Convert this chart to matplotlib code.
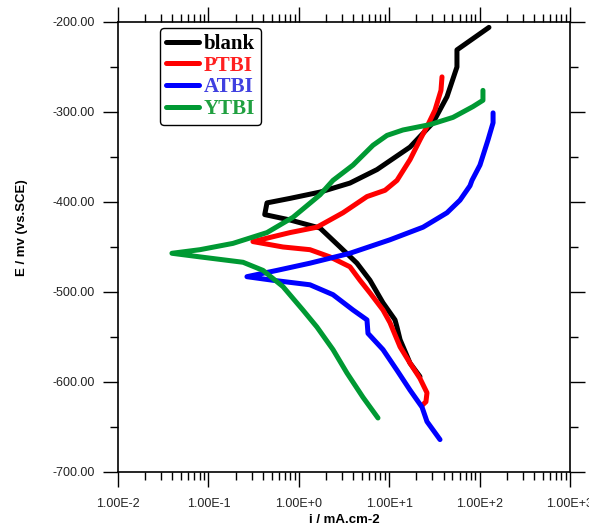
import matplotlib
matplotlib.use("Agg")
import matplotlib.pyplot as plt
from matplotlib.ticker import LogLocator, FixedLocator, NullFormatter

# Tafel curves: current density (mA/cm2) and potential (mV vs SCE)
blank_i = [127, 56.2, 56.2, 43.6, 30.5, 17.0, 7.33, 3.68, 1.72, 0.80, 0.445, 0.42,
           0.80, 1.72, 2.86, 4.40, 6.13, 8.54, 11.6, 12.2, 13.2, 17.0, 21.9]
blank_E = [-206, -231, -250, -283, -312, -339, -364, -379, -389, -396, -401, -414,
           -420, -429, -450, -468, -487, -512, -531, -539, -553, -579, -594]

ptbi_i = [38.4, 37.4, 32.1, 26.9, 21.9, 17.0, 12.2, 9.0, 5.68, 3.08, 1.59, 0.80, 0.311,
          0.668, 1.33, 2.21, 3.68, 4.75, 6.13, 8.54, 10.2, 13.2, 17.0, 21.9, 26.2, 25.5, 23.1]
ptbi_E = [-261, -276, -298, -314, -331, -353, -376, -387, -394, -412, -428, -434, -444,
          -450, -453, -461, -472, -487, -501, -520, -534, -561, -579, -596, -612, -622, -626]

atbi_i = [141, 141, 124, 101, 82.4, 78.3, 60.7, 43.6, 23.7, 10.2, 3.68, 1.33, 0.574, 0.267,
          0.519, 1.33, 2.39, 3.98, 5.68, 5.83, 8.54, 12.2, 17.0, 23.1, 26.2, 36.5]
atbi_E = [-301, -312, -331, -359, -376, -382, -398, -412, -428, -442, -457, -468, -476, -483,
          -487, -492, -503, -520, -531, -546, -564, -587, -609, -628, -644, -664]

ytbi_i = [109, 109, 84.5, 50.8, 28.3, 14.2, 9.46, 6.62, 3.98, 2.39, 1.72, 0.863, 0.445,
          0.187, 0.0807, 0.0395, 0.0807, 0.242, 0.402, 0.668, 1.11, 1.59, 2.39, 3.41, 5.13, 7.52]
ytbi_E = [-276, -287, -294, -306, -314, -320, -326, -337, -359, -376, -392, -417, -434,
          -446, -453, -457, -461, -467, -476, -494, -520, -539, -564, -590, -617, -640]

names = ["blank", "PTBI", "ATBI", "YTBI"]
colors = ["#000000", "#ff0000", "#0000ff", "#009933"]
text_colors = ["#000000", "#ff2020", "#4040e0", "#20a040"]

x_ticks = [1e-2, 1e-1, 1e0, 1e1, 1e2, 1e3]
x_labels = ["1.00E-2", "1.00E-1", "1.00E+0", "1.00E+1", "1.00E+2", "1.00E+3"]
y_ticks = [-700, -600, -500, -400, -300, -200]
y_labels = ["-700.00", "-600.00", "-500.00", "-400.00", "-300.00", "-200.00"]

fig = plt.figure(figsize=(5.89, 5.26), dpi=100)
ax = fig.add_axes([0.2003, 0.1027, 0.7674, 0.8555])

series = [(blank_i, blank_E), (ptbi_i, ptbi_E), (atbi_i, atbi_E), (ytbi_i, ytbi_E)]
for (xi, ye), name, c in zip(series, names, colors):
    ax.plot(xi, ye, color=c, lw=3.6, label=name, solid_capstyle="round", solid_joinstyle="round")

ax.set_xscale("log")
ax.set_xlim(1e-2, 1e3)
ax.set_ylim(-700, -200)

ax.xaxis.set_major_locator(FixedLocator(x_ticks))
ax.set_xticklabels(x_labels)
ax.xaxis.set_minor_locator(LogLocator(base=10, subs=range(2, 10), numticks=20))
ax.xaxis.set_minor_formatter(NullFormatter())
ax.yaxis.set_major_locator(FixedLocator(y_ticks))
ax.set_yticklabels(y_labels)
ax.yaxis.set_minor_locator(FixedLocator([-650, -550, -450, -350, -250]))

ax.tick_params(which="both", direction="out", top=True, right=True, width=1.0, color="black",
               labelsize=9, labelcolor="#222222")
ax.tick_params(which="major", length=10.5)
ax.tick_params(which="minor", length=6)
ax.tick_params(axis="y", which="major", pad=6)
ax.tick_params(axis="x", which="major", pad=8)
for lab in ax.get_xticklabels() + ax.get_yticklabels():
    lab.set_family("Liberation Sans")
for s in ax.spines.values():
    s.set_linewidth(1.2)

ax.set_xlabel("i / mA.cm-2", family="Liberation Sans", fontweight="bold", fontsize=9.5, labelpad=3)
ax.set_ylabel("E / mv (vs.SCE)", family="Liberation Sans", fontweight="bold", fontsize=9.5)
ax.yaxis.set_label_coords(-0.2, 0.544)

leg = ax.legend(loc="upper left", bbox_to_anchor=(0.093, 0.987), borderaxespad=0,
                prop={"family": "Liberation Serif", "weight": "bold", "size": 15},
                handlelength=1.55, handletextpad=0.25, labelspacing=0.08,
                borderpad=0.3, fancybox=True, framealpha=1, edgecolor="black")
leg.get_frame().set_linewidth(1.0)
for t, c in zip(leg.get_texts(), text_colors):
    t.set_color(c)

fig.savefig("out.png", dpi=100)
